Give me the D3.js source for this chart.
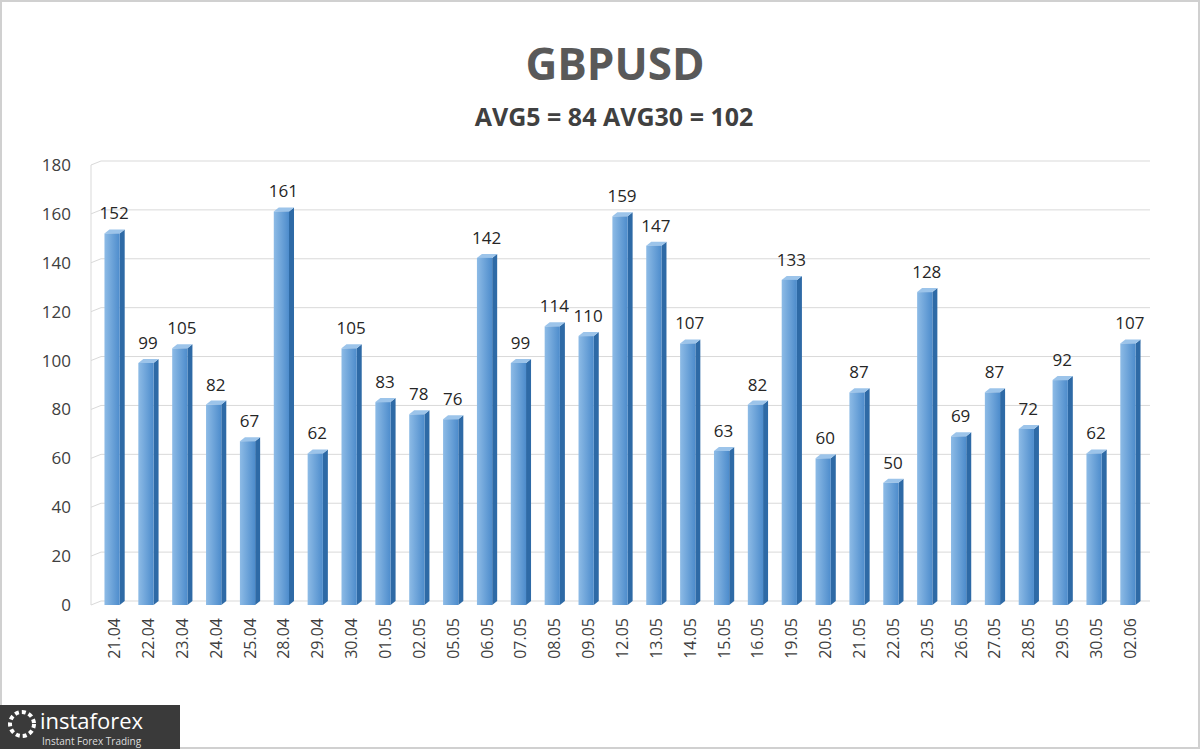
<!DOCTYPE html><html><head><meta charset="utf-8"><script src="https://cdn.jsdelivr.net/npm/d3@7"></script>
<style>body{margin:0;background:#fff}</style></head><body><svg id="c" width="1200" height="749"></svg><script>
const dates=["21.04","22.04","23.04","24.04","25.04","28.04","29.04","30.04","01.05","02.05","05.05","06.05","07.05","08.05","09.05","12.05","13.05","14.05","15.05","16.05","19.05","20.05","21.05","22.05","23.05","26.05","27.05","28.05","29.05","30.05","02.06"];
const values=[152,99,105,82,67,161,62,105,83,78,76,142,99,114,110,159,147,107,63,82,133,60,87,50,128,69,87,72,92,62,107];
const yTicks=[0,20,40,60,80,100,120,140,160,180];
const svg=d3.select("#c");
svg.append("rect").attr("x",1).attr("y",1).attr("width",1198).attr("height",747).attr("fill","#fff").attr("stroke","#d0d0d0").attr("stroke-width",2);
const defs=svg.append("defs");
const g1=defs.append("linearGradient").attr("id","gf").attr("x1",0).attr("x2",1);
g1.append("stop").attr("offset","0").attr("stop-color","#8dbbe6");
g1.append("stop").attr("offset","1").attr("stop-color","#4d8ccc");
svg.append("text").attr("x",615).attr("y",80).attr("text-anchor","middle").attr("font-family","Open Sans, sans-serif").attr("font-weight","bold").attr("font-size",44).attr("fill","#595959").text("GBPUSD");
svg.append("text").attr("x",614).attr("y",126).attr("text-anchor","middle").attr("font-family","Open Sans, sans-serif").attr("font-weight","bold").attr("font-size",25).attr("fill","#404040").text("AVG5 = 84 AVG30 = 102");
const y=d3.scaleLinear().domain([0,180]).range([605,165]);
const x=d3.scaleBand().domain(dates).range([96,1144]).paddingInner(0.55).paddingOuter(0.25);
const dx=5,dy=4;
yTicks.forEach(t=>{
 svg.append("line").attr("x1",91).attr("x2",96+dx).attr("y1",y(t)).attr("y2",y(t)-dy).attr("stroke","#d9d9d9");
 svg.append("line").attr("x1",96+dx).attr("x2",1150).attr("y1",y(t)-dy).attr("y2",y(t)-dy).attr("stroke","#d9d9d9");
});
const ya=svg.append("g").attr("transform","translate(91,0)").call(d3.axisLeft(y).tickValues(yTicks).tickSize(0).tickPadding(20));
ya.select(".domain").remove();
ya.selectAll("text").attr("font-family","Open Sans, sans-serif").attr("font-size",17).attr("fill","#404040");
svg.append("line").attr("x1",91).attr("x2",91).attr("y1",y(180)).attr("y2",605).attr("stroke","#d9d9d9");
const bw=x.bandwidth();
dates.forEach((d,i)=>{
 const x0=x(d),v=values[i],yt=y(v);
 svg.append("polygon").attr("points",`${x0+bw},${yt} ${x0+bw+dx},${yt-dy} ${x0+bw+dx},${605-dy} ${x0+bw},605`).attr("fill","#2e6aa6");
 svg.append("polygon").attr("points",`${x0},${yt} ${x0+dx},${yt-dy} ${x0+bw+dx},${yt-dy} ${x0+bw},${yt}`).attr("fill","#9cc4ea");
 svg.append("rect").attr("x",x0).attr("y",yt).attr("width",bw).attr("height",605-yt).attr("fill","url(#gf)");
 svg.append("text").attr("x",x0+bw/2+2).attr("y",yt-14).attr("text-anchor","middle").attr("font-family","Open Sans, sans-serif").attr("font-size",17).attr("fill","#262626").text(v);
 svg.append("text").attr("transform",`translate(${x0+bw/2+8},618) rotate(-90)`).attr("text-anchor","end").attr("font-family","Open Sans, sans-serif").attr("font-size",16).attr("fill","#404040").text(d);
});
const lg=svg.append("g").attr("transform","translate(0,705)");
lg.append("rect").attr("x",0).attr("y",0).attr("width",180).attr("height",44).attr("fill","#3a3a3a");
lg.append("circle").attr("cx",22).attr("cy",19).attr("r",12).attr("fill","none").attr("stroke","#fff").attr("stroke-width",4).attr("stroke-dasharray","4 3");
lg.append("text").attr("x",40).attr("y",24).attr("font-family","Open Sans, sans-serif").attr("font-size",22).attr("fill","#fff").text("instaforex");
lg.append("text").attr("x",42).attr("y",40).attr("font-family","Open Sans, sans-serif").attr("font-size",10).attr("fill","#ddd").text("Instant Forex Trading");
</script></body></html>
